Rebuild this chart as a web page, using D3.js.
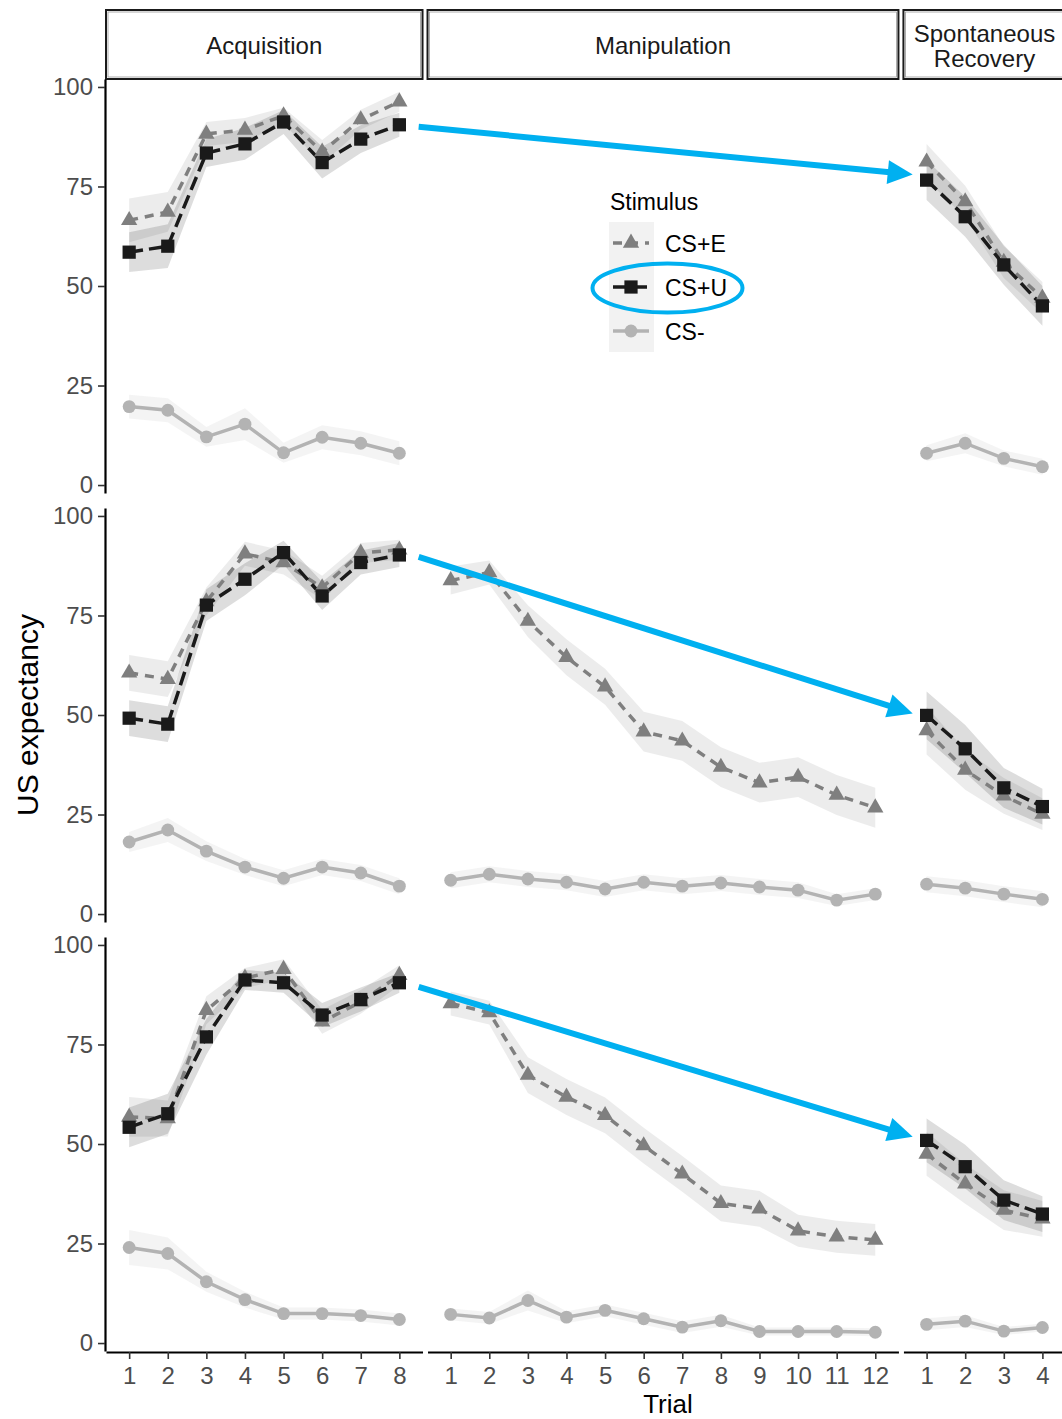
<!DOCTYPE html>
<html lang="en">
<head>
<meta charset="utf-8">
<title>US expectancy by trial</title>
<script src="https://d3js.org/d3.v7.min.js"></script>
<style>
  body { margin: 0; background: #fff; }
  svg { display: block; font-family: "Liberation Sans", Arial, sans-serif; }
</style>
</head>
<body>
<div id="chart"></div>
<script>
// facet columns and stimuli
const phases = ["Acquisition", "Manipulation", "Spontaneous Recovery"];
const trialCounts = [8, 12, 4];
const stimuli = ["CS+E", "CS+U", "CS-"];
const yTicks = [0, 25, 50, 75, 100];

// means per row (group)
const acqE = [
  [66.5, 68.6, 88.2, 89.2, 92.8, 83.7, 91.8, 96.3],
  [60.6, 59.0, 78.5, 90.5, 88.3, 82.0, 90.7, 91.5],
  [56.8, 56.4, 83.6, 91.7, 93.9, 80.7, 85.7, 92.4]
];
const acqU = [
  [58.5, 60.0, 83.4, 85.7, 91.2, 81.0, 86.9, 90.5],
  [49.2, 47.7, 77.6, 84.1, 90.8, 79.9, 88.3, 90.2],
  [54.2, 57.6, 76.9, 91.2, 90.5, 82.4, 86.3, 90.5]
];
const acqN = [
  [19.7, 18.8, 12.1, 15.3, 8.1, 12.0, 10.5, 8.0],
  [18.1, 21.1, 15.8, 11.8, 9.0, 11.8, 10.3, 7.0],
  [24.0, 22.5, 15.4, 10.9, 7.4, 7.4, 6.9, 5.9]
];
const manE = [
  null,
  [83.8, 85.8, 73.6, 64.5, 57.1, 45.8, 43.5, 36.9, 33.0, 34.4, 29.9, 26.7],
  [85.3, 83.0, 67.3, 61.8, 57.2, 49.6, 42.5, 35.1, 33.7, 28.2, 26.7, 25.9]
];
const manN = [
  null,
  [8.5, 10.0, 8.8, 8.0, 6.3, 8.0, 7.0, 7.8, 6.8, 6.0, 3.5, 5.0],
  [7.2, 6.3, 10.7, 6.5, 8.2, 6.1, 4.0, 5.6, 2.9, 2.9, 2.9, 2.7]
];
const srE = [
  [81.2, 71.2, 56.0, 47.0],
  [46.1, 36.2, 29.7, 25.1],
  [47.5, 40.0, 33.4, 31.2]
];
const srU = [
  [76.6, 67.4, 55.3, 45.0],
  [49.9, 41.5, 31.7, 27.0],
  [50.9, 44.3, 35.9, 32.4]
];
const srN = [
  [8.0, 10.5, 6.7, 4.6],
  [7.5, 6.5, 5.0, 3.7],
  [4.7, 5.5, 3.0, 3.9]
];

// ribbon half widths (standard error)
const acqEse = [
  [5.5, 5, 3, 3, 2, 3, 2.5, 2.5],
  [4.5, 4.5, 3.5, 3, 3, 3, 2.5, 2.5],
  [5, 4.5, 3.5, 2.5, 2.5, 3, 3, 2.5]
];
const acqUse = [
  [5, 5.5, 3.5, 4, 3, 4, 3.5, 3],
  [4.5, 4.5, 4, 4, 3, 3.5, 3, 3],
  [5, 5, 4.5, 2.5, 2.5, 3, 3, 2.5]
];
const acqNse = [
  [3, 3, 2.5, 4, 2.5, 3, 3, 3],
  [2.5, 3, 2.5, 2, 2, 2, 2, 2],
  [4.4, 4, 2.5, 2, 1.5, 1.5, 1.5, 1.5]
];
const manEse = [
  null,
  [3.5, 3, 4, 4.5, 4.5, 5, 5, 5, 5, 5, 5, 5],
  [3, 3, 4.5, 4.5, 4.5, 4.5, 4.5, 4.5, 4.5, 4, 4, 4]
];
const manNse = [
  null,
  [2, 2, 2, 2, 2, 2, 2, 2, 2, 2, 1.5, 1.5],
  [1.5, 1.5, 2.5, 1.5, 1.5, 1.5, 1.5, 1.5, 1, 1, 1, 1]
];
const srEse = [[4.5, 4, 4, 4], [6, 5, 4.5, 4], [5.5, 5, 5, 4.5]];
const srUse = [[5, 5, 5, 5], [6, 6, 5, 4.5], [5.5, 5.5, 5, 4.5]];
const srNse = [[2, 2.5, 2, 2], [2, 2, 2, 2], [1.5, 1.5, 1, 1]];

// blue arrows: CS+U value at end of acquisition -> start of recovery
const arrowFrom = [90, 89.7, 89.5];
const arrowTo = [78, 50.4, 51.8];

// ---- layout ----
const W = 1062, H = 1419;
const left = 106, unit = 38.6, colGap = 5;
const stripTop = 10, stripBottom = 79;
const rowTop = [79, 508, 937], panelH = 414;
const FONT = "Liberation Sans, Arial, sans-serif";

const style = {
  "CS+E": { color: "#7f7f7f", dash: "9 7", shape: d3.symbolTriangle, size: 115 },
  "CS+U": { color: "#1a1a1a", dash: "14 6", shape: d3.symbolSquare, size: 175 },
  "CS-":  { color: "#b3b3b3", dash: null, shape: d3.symbolCircle, size: 130 }
};

const svg = d3.select("#chart").append("svg")
  .attr("width", W).attr("height", H);

// x scales per column
const xs = [];
let x0 = left;
trialCounts.forEach((n, i) => {
  const w = (n + 0.2) * unit;
  xs.push(d3.scaleLinear().domain([0.4, n + 0.6]).range([x0, x0 + w]));
  x0 += w + colGap;
});
const ys = rowTop.map(t => d3.scaleLinear().domain([-2, 102]).range([t + panelH, t]));

// collect series per row / phase
function seriesFor(g, p) {
  const out = [];
  if (p === 0) {
    out.push({ s: "CS+E", m: acqE[g], se: acqEse[g] });
    out.push({ s: "CS+U", m: acqU[g], se: acqUse[g] });
    out.push({ s: "CS-", m: acqN[g], se: acqNse[g] });
  } else if (p === 1) {
    if (manE[g]) out.push({ s: "CS+E", m: manE[g], se: manEse[g] });
    if (manN[g]) out.push({ s: "CS-", m: manN[g], se: manNse[g] });
  } else {
    out.push({ s: "CS+E", m: srE[g], se: srEse[g] });
    out.push({ s: "CS+U", m: srU[g], se: srUse[g] });
    out.push({ s: "CS-", m: srN[g], se: srNse[g] });
  }
  return out;
}

// strips
phases.forEach((name, p) => {
  const [a, b] = xs[p].range();
  const st = svg.append("g");
  st.append("rect").attr("x", a).attr("y", stripTop)
    .attr("width", b - a).attr("height", stripBottom - stripTop)
    .attr("fill", "#fff").attr("stroke", "#1a1a1a").attr("stroke-width", 2);
  st.append("rect").attr("x", a + 2).attr("y", stripTop + 2)
    .attr("width", b - a - 4).attr("height", stripBottom - stripTop - 4)
    .attr("fill", "none").attr("stroke", "#9a9a9a").attr("stroke-width", 0.8);
  const cx = (a + b) / 2;
  if (p === 2) {
    st.append("text").attr("x", cx).attr("y", 42).attr("text-anchor", "middle")
      .attr("font-size", 24).attr("fill", "#1a1a1a").text("Spontaneous");
    st.append("text").attr("x", cx).attr("y", 67).attr("text-anchor", "middle")
      .attr("font-size", 24).attr("fill", "#1a1a1a").text("Recovery");
  } else {
    st.append("text").attr("x", cx).attr("y", 54).attr("text-anchor", "middle")
      .attr("font-size", 24).attr("fill", "#1a1a1a").text(name);
  }
});

// panels
rowTop.forEach((t, g) => {
  const y = ys[g];
  phases.forEach((_, p) => {
    const x = xs[p];
    const ser = seriesFor(g, p);
    const pg = svg.append("g");

    const area = d3.area()
      .x((d, i) => x(i + 1))
      .y0(d => y(d[0] - d[1]))
      .y1(d => y(d[0] + d[1]));
    const line = d3.line().x((d, i) => x(i + 1)).y(d => y(d));

    ser.forEach(d => {
      pg.append("path")
        .datum(d.m.map((v, i) => [v, d.se[i]]))
        .attr("d", area)
        .attr("fill", style[d.s].color).attr("fill-opacity", 0.15);
    });
    ser.forEach(d => {
      pg.append("path").datum(d.m).attr("d", line)
        .attr("fill", "none").attr("stroke", style[d.s].color)
        .attr("stroke-width", 3.5)
        .attr("stroke-dasharray", style[d.s].dash);
    });
    ser.forEach(d => {
      const sym = d3.symbol().type(style[d.s].shape).size(style[d.s].size);
      pg.selectAll(null).data(d.m).enter().append("path")
        .attr("d", sym)
        .attr("transform", (v, i) => `translate(${x(i + 1)},${y(v)})`)
        .attr("fill", style[d.s].color);
    });

    // bottom x axis
    if (g === rowTop.length - 1) {
      const ax = svg.append("g")
        .attr("transform", `translate(0,${t + panelH + 1})`)
        .call(d3.axisBottom(x).tickValues(d3.range(1, trialCounts[p] + 1))
          .tickFormat(d3.format("d"))
          .tickSize(7).tickSizeOuter(0).tickPadding(8));
      ax.select(".domain").attr("stroke", "#000").attr("stroke-width", 2.2);
      ax.selectAll(".tick line").attr("stroke", "#333").attr("stroke-width", 1.6);
      ax.selectAll(".tick text").attr("font-size", 24).attr("fill", "#4d4d4d")
        .attr("font-family", FONT);
    }
  });

  // left y axis
  const ay = svg.append("g")
    .attr("transform", `translate(${left - 1},0)`)
    .call(d3.axisLeft(y).tickValues(yTicks).tickSize(7).tickSizeOuter(0).tickPadding(5));
  ay.select(".domain").attr("stroke", "#000").attr("stroke-width", 2.2);
  ay.selectAll(".tick line").attr("stroke", "#333").attr("stroke-width", 1.6);
  ay.selectAll(".tick text").attr("font-size", 24).attr("fill", "#4d4d4d")
    .attr("font-family", FONT);
});

// axis titles
svg.append("text").attr("x", 668).attr("y", 1413).attr("text-anchor", "middle")
  .attr("font-size", 26).attr("fill", "#000").text("Trial");
svg.append("text").attr("transform", "translate(38,715) rotate(-90)")
  .attr("text-anchor", "middle").attr("font-size", 30).attr("fill", "#000")
  .text("US expectancy");

// legend
const lg = svg.append("g");
lg.append("text").attr("x", 610).attr("y", 210).attr("font-size", 23)
  .attr("fill", "#000").text("Stimulus");
lg.append("rect").attr("x", 609).attr("y", 222).attr("width", 45).attr("height", 130)
  .attr("fill", "#f2f2f2");
stimuli.forEach((s, i) => {
  const cy = 243 + i * 44;
  lg.append("line").attr("x1", 613).attr("x2", 649).attr("y1", cy).attr("y2", cy)
    .attr("stroke", style[s].color).attr("stroke-width", 3.5)
    .attr("stroke-dasharray", style[s].dash);
  lg.append("path").attr("d", d3.symbol().type(style[s].shape).size(style[s].size))
    .attr("transform", `translate(631,${cy})`).attr("fill", style[s].color);
  lg.append("text").attr("x", 665).attr("y", cy + 8.5).attr("font-size", 23)
    .attr("fill", "#000").text(s);
});

// highlight around CS+U key
svg.append("ellipse").attr("cx", 667.5).attr("cy", 288).attr("rx", 75).attr("ry", 24.5)
  .attr("fill", "none").attr("stroke", "#00b0f0").attr("stroke-width", 4);

// blue arrows
const blue = "#00b0f0";
rowTop.forEach((t, g) => {
  const xa = xs[0](8.5), ya = ys[g](arrowFrom[g]);
  const xb = xs[2](0.64), yb = ys[g](arrowTo[g]);
  const ang = Math.atan2(yb - ya, xb - xa);
  const headL = 25, headW = 12;
  const bx = xb - headL * Math.cos(ang), by = yb - headL * Math.sin(ang);
  svg.append("line").attr("x1", xa).attr("y1", ya).attr("x2", bx + 2 * Math.cos(ang)).attr("y2", by + 2 * Math.sin(ang))
    .attr("stroke", blue).attr("stroke-width", 6);
  const px = -Math.sin(ang), py = Math.cos(ang);
  svg.append("path")
    .attr("d", `M${xb},${yb}L${bx + px * headW},${by + py * headW}L${bx - px * headW},${by - py * headW}Z`)
    .attr("fill", blue);
});
</script>
</body>
</html>
